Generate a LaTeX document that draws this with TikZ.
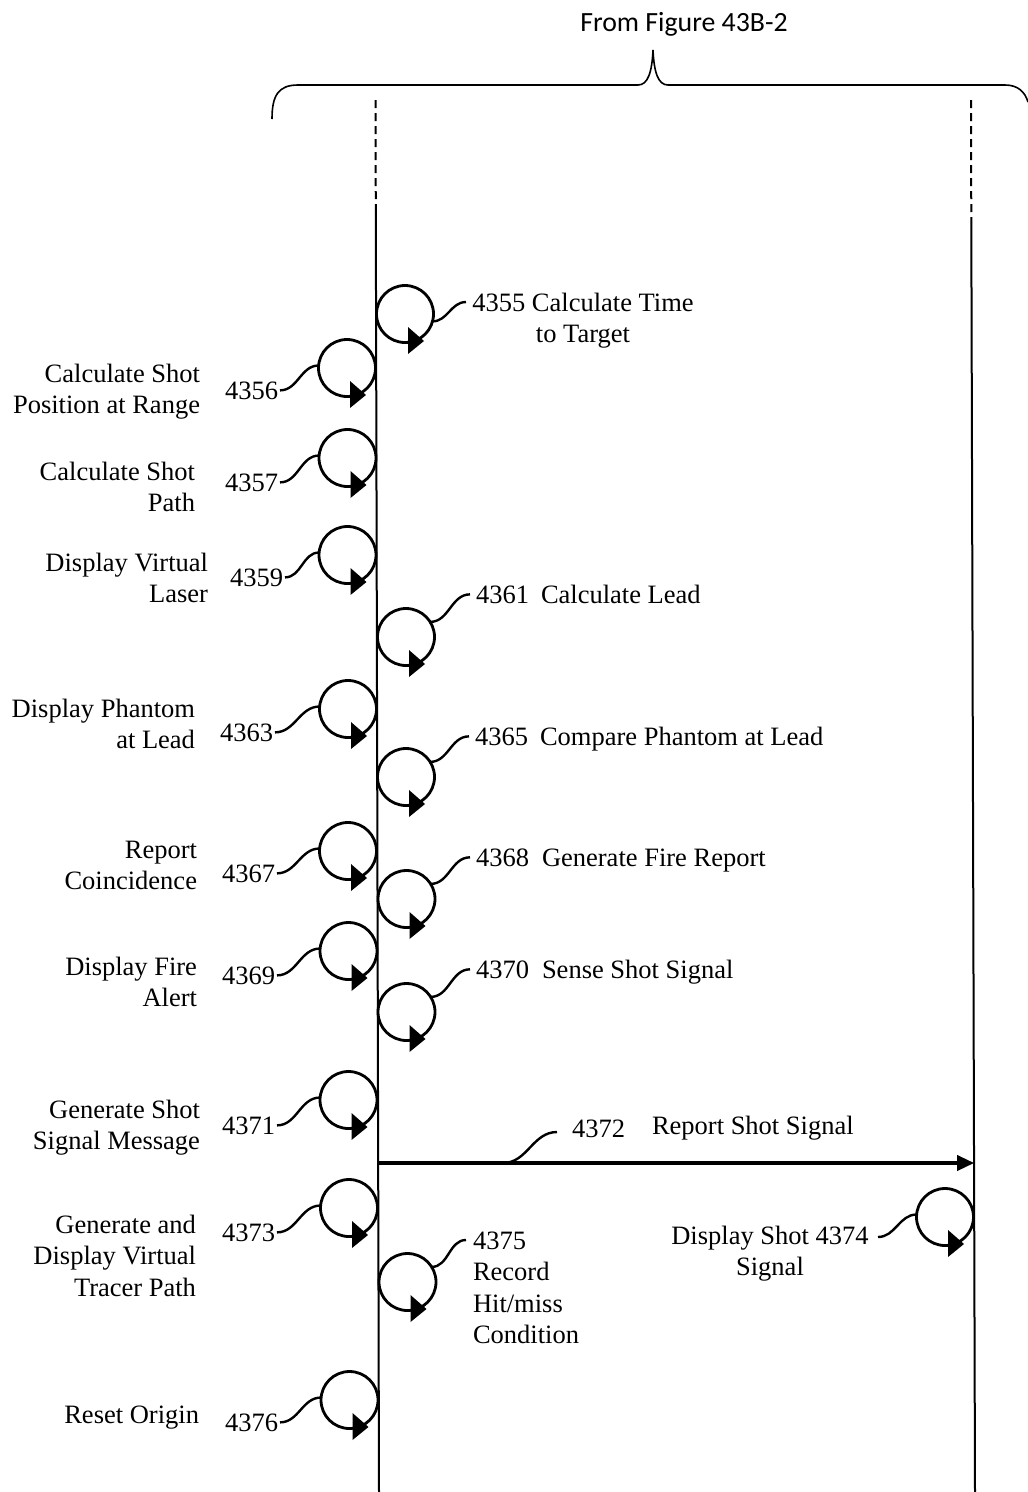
\documentclass[tikz,border=0pt]{standalone}
\usepackage{fontspec}
\setmainfont{Liberation Serif}
\newfontfamily\calfont{Carlito}
\usetikzlibrary{arrows.meta,calc}
\begin{document}
\begin{tikzpicture}[x=1pt,y=-1pt,
  every node/.style={inner sep=0pt, outer sep=0pt},
  lbl/.style={font=\fontsize{26.5}{31.5}\selectfont},
  lefttxt/.style={lbl, align=right, anchor=base east},
  num/.style={lbl, anchor=base west},
  loopc/.style={circle, draw, line width=2.8pt, minimum size=57pt},
  lifeline/.style={line width=2pt},
  dashline/.style={line width=2pt, dash pattern=on 8pt off 5pt},
  lead/.style={line width=2.4pt, out=0, in=180},
  bracestyle/.style={line width=1.6pt},
  msg/.style={line width=3.5pt, -{Triangle[length=17pt,width=15pt]}}]
\useasboundingbox (0,0) rectangle (1028,1492);

% title and brace
\node[font=\calfont\fontsize{27.8}{33}\selectfont, anchor=base] (title) at (684,31) {From Figure 43B-2};
\draw[bracestyle] (272,119) .. controls (272,96) and (278,85) .. (298,85) -- (638,85)
  .. controls (648,85) and (652,72) .. (653,50) .. controls (654,72) and (658,85) .. (668,85)
  -- (1005,85) .. controls (1018,85) and (1025,92) .. (1028,102);

% lifelines
\coordinate (L0) at (375.5,100);
\coordinate (L1) at (375.8,212);
\coordinate (L2) at (379,1492);
\coordinate (R0) at (971,100);
\coordinate (R1) at (971.3,222);
\coordinate (R2) at (975,1492);
\draw[dashline] (L0) -- (L1);
\draw[lifeline] (L1) -- (L2);
\draw[dashline] (R0) -- (R1);
\draw[lifeline] (R1) -- (R2);

% loops
\foreach \n/\x/\y in {4356/347/368, 4357/347.5/458, 4359/347.5/555, 4363/348/709,
  4367/348/851, 4369/348.5/951, 4371/348.5/1100, 4373/349/1208, 4376/349.5/1400,
  4355/405/314, 4361/406/637, 4365/406/777, 4368/406.5/899, 4370/406.5/1012,
  4375/407.5/1282, 4374/945/1217}{
  \node[loopc] (l\n) at (\x,\y) {};
  \fill ($(l\n.center)+(3,13)$) -- ($(l\n.center)+(3,40)$) -- ($(l\n.center)+(19,27)$) -- cycle;
}

% left labels (base anchor = baseline of the last line)
\node[lefttxt] (t4356) at (200,413.5) {Calculate Shot\\Position at Range};
\node[num] (n4356) at (225,399) {4356};
\node[lefttxt] (t4357) at (195,511.5) {Calculate Shot\\Path};
\node[num] (n4357) at (225,491) {4357};
\node[lefttxt] (t4359) at (208,602.5) {Display Virtual\\Laser};
\node[num] (n4359) at (230,586) {4359};
\node[lefttxt] (t4363) at (195,748.5) {Display Phantom\\at Lead};
\node[num] (n4363) at (220,741) {4363};
\node[lefttxt] (t4367) at (197,889.5) {Report\\Coincidence};
\node[num] (n4367) at (222,882) {4367};
\node[lefttxt] (t4369) at (197,1006.5) {Display Fire\\Alert};
\node[num] (n4369) at (222,984) {4369};
\node[lefttxt] (t4371) at (200,1149.5) {Generate Shot\\Signal Message};
\node[num] (n4371) at (222,1134) {4371};
\node[lefttxt] (t4373) at (196,1296) {Generate and\\Display Virtual\\Tracer Path};
\node[num] (n4373) at (222,1241) {4373};
\node[lefttxt] (t4376) at (199,1423) {Reset Origin};
\node[num] (n4376) at (225,1431) {4376};

\foreach \n in {4356,4357,4359,4363,4367,4369,4371,4373,4376}{
  \draw[lead] ([xshift=2pt]n\n.east) to (l\n.175);
}

% right labels
\node[lbl, align=center, anchor=base] (t4355) at (583,342.5) {4355 Calculate Time\\to Target};
\coordinate (c4355) at (466,302);
\draw[lead] (l4355.-15) to (c4355);

\node[num] (n4361) at (476,603) {4361};
\node[num] (t4361) at (541,603) {Calculate Lead};
\node[num] (n4365) at (475,745) {4365};
\node[num] (t4365) at (540,745) {Compare Phantom at Lead};
\node[num] (n4368) at (476,866) {4368};
\node[num] (t4368) at (542,866) {Generate Fire Report};
\node[num] (n4370) at (476,978) {4370};
\node[num] (t4370) at (542,978) {Sense Shot Signal};
\foreach \n in {4361,4365,4368,4370}{
  \draw[lead] (l\n.32) to ([xshift=-6pt]n\n.west);
}

% message 4372
\coordinate (m0) at (377.9,1163);
\coordinate (m1) at (974.2,1163);
\draw[msg] (m0) -- (m1);
\node[num] (n4372) at (572,1137) {4372};
\node[num] (t4372) at (652,1134) {Report Shot Signal};
\coordinate (c4372a) at (503,1163);
\coordinate (c4372b) at (557,1132);
\draw[lead] (c4372a) to (c4372b);

% 4374
\node[lbl, align=center, anchor=base] (t4374) at (770,1275.5) {Display Shot 4374\\Signal};
\coordinate (c4374) at (878,1237);
\draw[lead] (c4374) to (l4374.175);

% 4375
\node[lbl, align=left, anchor=base west] (t4375) at (473,1343.5) {4375\\Record\\Hit/miss\\Condition};
\coordinate (c4375) at (466,1240);
\draw[lead] (l4375.32) to (c4375);
\end{tikzpicture}
\end{document}
